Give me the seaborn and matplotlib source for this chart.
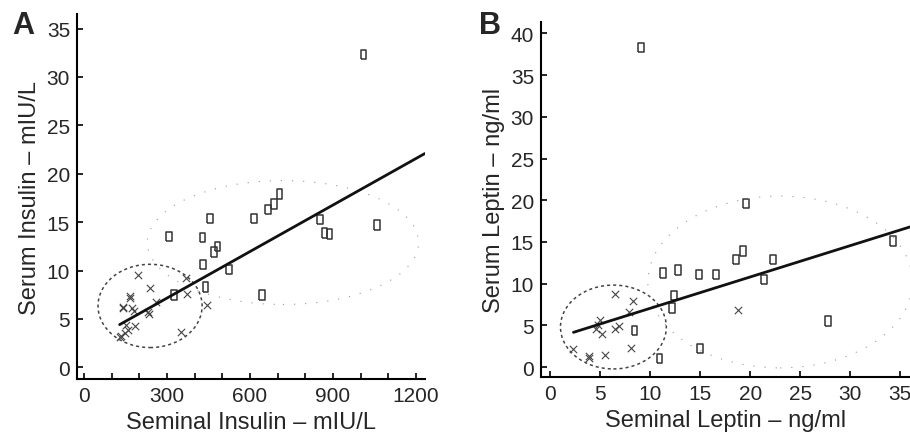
import numpy as np
import pandas as pd
import matplotlib
matplotlib.use("Agg")
import matplotlib.pyplot as plt
from matplotlib.patches import Ellipse
import seaborn as sns

sns.set_style("ticks")
plt.rcParams['font.family'] = ['Liberation Sans', 'DejaVu Sans']

# Panel A: seminal vs serum insulin
ins_sq_x = [1010, 455, 615, 666, 687, 706, 853, 869, 887, 1059, 307, 428, 482, 470, 430, 524, 439, 325, 644]
ins_sq_y = [32.3, 15.4, 15.4, 16.3, 16.9, 17.9, 15.3, 13.9, 13.8, 14.7, 13.5, 13.4, 12.5, 11.9, 10.6, 10.1, 8.3, 7.5, 7.5]
ins_x_x = [195, 240, 167, 167, 141, 143, 173, 180, 259, 231, 236, 370, 374, 443, 352, 183, 159, 147, 135, 129, 153]
ins_x_y = [9.5, 8.2, 7.4, 7.2, 6.1, 6.2, 6.1, 5.8, 6.8, 5.7, 5.5, 9.2, 7.6, 6.4, 3.7, 4.3, 3.9, 3.6, 3.2, 3.1, 4.4]
ins_fit = [0.01603, 2.35]          # slope, intercept
ins_ell_small = [239, 6.35, 376, 8.6]   # cx, cy, w, h
ins_ell_big = [719, 12.9, 980, 12.8]

# Panel B: seminal vs serum leptin
lep_sq_x = [9.08, 19.6, 19.3, 18.6, 22.3, 34.3, 11.25, 12.8, 14.9, 16.6, 21.4, 12.4, 12.2, 8.4, 27.8, 15.0, 10.9]
lep_sq_y = [38.3, 19.6, 13.9, 12.9, 12.9, 15.1, 11.3, 11.65, 11.1, 11.1, 10.5, 8.6, 7.1, 4.4, 5.5, 2.2, 1.0]
lep_x_x = [6.5, 8.3, 7.9, 5.0, 4.8, 4.6, 5.2, 6.5, 6.9, 18.8, 2.3, 3.9, 3.9, 5.5, 8.1]
lep_x_y = [8.7, 7.9, 6.6, 5.7, 5.1, 4.6, 4.0, 4.6, 4.9, 6.8, 2.2, 1.35, 1.1, 1.4, 2.3]
lep_fit = [0.375, 3.30]
lep_ell_small = [6.3, 4.8, 10.6, 10.05]
lep_ell_big = [23.0, 10.2, 26.5, 20.6]

rect = [(-0.3, -0.5), (0.3, -0.5), (0.3, 0.5), (-0.3, 0.5), (-0.3, -0.5)]
edge = '#333333'


def draw_panel(ax, sq_x, sq_y, x_x, x_y, fit, ell_small, ell_big, xlim):
    sns.scatterplot(x=sq_x, y=sq_y, ax=ax, marker=rect, s=46,
                    facecolor='none', edgecolor=edge, linewidth=1.1)
    sns.scatterplot(x=x_x, y=x_y, ax=ax, marker='x', s=28,
                    color='#444444', linewidth=0.8)
    fx = np.array([min(x_x + sq_x), xlim[1]])
    sns.lineplot(x=fx, y=fit[0] * fx + fit[1], ax=ax, color='#111111', lw=2.0)
    ax.add_patch(Ellipse((ell_small[0], ell_small[1]), ell_small[2], ell_small[3],
                         fill=False, ec='#444444', lw=1.1, ls=(0, (2, 2))))
    ax.add_patch(Ellipse((ell_big[0], ell_big[1]), ell_big[2], ell_big[3],
                         fill=False, ec='#999999', lw=0.8, ls=(0, (1, 9))))
    sns.despine(ax=ax)
    for s in ['left', 'bottom']:
        ax.spines[s].set_linewidth(1.5)
        ax.spines[s].set_color('black')
    ax.tick_params(direction='in', length=4, width=1.2, labelsize=15, pad=5, color='black')


fig = plt.figure(figsize=(9.1, 4.35), dpi=100)
ax1 = fig.add_axes([0.0846, 0.1264, 0.3824, 0.839])
ax2 = fig.add_axes([0.5945, 0.1303, 0.4055, 0.8175])

draw_panel(ax1, ins_sq_x, ins_sq_y, ins_x_x, ins_x_y, ins_fit, ins_ell_small, ins_ell_big, (-25, 1232))
ax1.set_xlim(-25, 1232)
ax1.set_ylim(-1.2, 36.5)
ax1.set_xticks(np.arange(0, 1201, 100))
ax1.set_xticklabels([str(v) if v % 300 == 0 else '' for v in range(0, 1201, 100)])
ax1.set_yticks(np.arange(0, 36, 5))
ax1.set_xlabel('Seminal Insulin \u2013 mIU/L', fontsize=17, labelpad=4)
ax1.set_ylabel('Serum Insulin \u2013 mIU/L', fontsize=17, labelpad=4)

draw_panel(ax2, lep_sq_x, lep_sq_y, lep_x_x, lep_x_y, lep_fit, lep_ell_small, lep_ell_big, (-0.95, 36))
ax2.set_xlim(-0.95, 36)
ax2.set_ylim(-1.23, 41.4)
ax2.set_xticks(np.arange(0, 36, 5))
ax2.set_yticks(np.arange(0, 41, 5))
ax2.set_xlabel('Seminal Leptin \u2013 ng/ml', fontsize=17, labelpad=4)
ax2.set_ylabel('Serum Leptin \u2013 ng/ml', fontsize=17, labelpad=4)

fig.text(23 / 910, 1 - 26 / 435, 'A', fontsize=22, fontweight='bold', ha='center', va='center')
fig.text(490 / 910, 1 - 26 / 435, 'B', fontsize=22, fontweight='bold', ha='center', va='center')

fig.savefig('out.png', dpi=100)
